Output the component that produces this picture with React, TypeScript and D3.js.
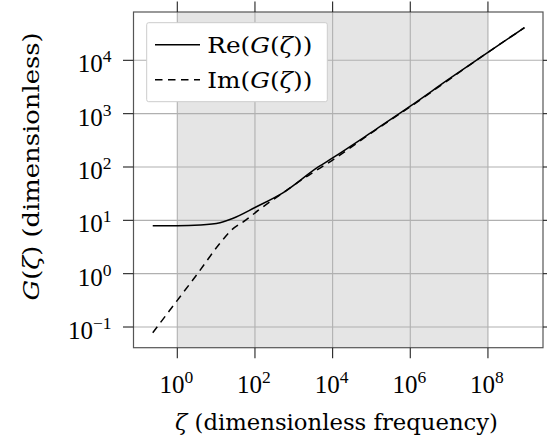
import React from 'react';
import * as d3 from 'd3';

// Re(G(ζ))
const reZeta = [0.233, 1, 3.89, 12.6, 27.5, 100, 537, 4266, 1e4, 1e5, 1e6, 1e7, 1e8, 8.71e8];
const reG = [7.94, 7.94, 8.18, 9.04, 10.96, 17.4, 33.1, 100, 148, 447, 1380, 4467, 14125, 40926];

// Im(G(ζ))
const imZeta = [0.233, 1, 3.16, 12.6, 25.1, 58.9, 123, 269, 589, 1175, 2884, 1e4, 1e5, 1e6, 1e7, 1e8, 8.71e8];
const imG = [0.0782, 0.316, 0.955, 3.72, 6.61, 10.16, 15.5, 23.4, 34.7, 49.5, 75.9, 135, 437, 1349, 4365, 14125, 40926];

const xTicks = [1, 1e2, 1e4, 1e6, 1e8];
const xTickExp = ['0', '2', '4', '6', '8'];
const yTicks = [1e-1, 1, 1e1, 1e2, 1e3, 1e4];
const yTickExp = ['\u22121', '0', '1', '2', '3', '4'];
const shadeRange = [1, 1e8];
const legendLabels = ['Re', 'Im'];

const FONT = "'Liberation Serif', serif";
const LABEL_FONT = "'DejaVu Serif', serif";

export default function App() {
  const W = 547, H = 441;
  const left = 133.5, right = 543, top = 12, bottom = 347.7;
  const x = d3.scaleLog().domain([10 ** -1.128, 10 ** 9.418]).range([left, right]);
  const y = d3.scaleLog().domain([10 ** -1.388, 10 ** 4.906]).range([bottom, top]);
  const line = d3
    .line<[number, number]>()
    .x((d) => x(d[0]))
    .y((d) => y(d[1]))
    .curve(d3.curveMonotoneX);
  const rePath = line(reZeta.map((z, i) => [z, reG[i]] as [number, number])) || '';
  const imPath = line(imZeta.map((z, i) => [z, imG[i]] as [number, number])) || '';
  const tickLen = 10.5;
  const gridColor = '#b0b0b0';
  const dash = '7.5,5.5';

  const legX = 146.7, legY = 22.7, legW = 180.6, legH = 79;
  const legendRows = [
    { label: legendLabels[0], dash: undefined as string | undefined, ly: 44.7, len: 105 },
    { label: legendLabels[1], dash: dash, ly: 79.7, len: 105 },
  ];

  const labelStyle = { fontFamily: LABEL_FONT, fontWeight: 300 } as React.CSSProperties;

  return (
    <svg
      width={W}
      height={H}
      style={{ position: 'absolute', left: 0, top: 0, background: '#fff', fontFamily: FONT }}
    >
      <defs>
        <clipPath id="plotclip">
          <rect x={left} y={top} width={right - left} height={bottom - top} />
        </clipPath>
      </defs>
      {/* shaded band */}
      <rect
        x={x(shadeRange[0])}
        y={top}
        width={x(shadeRange[1]) - x(shadeRange[0])}
        height={bottom - top}
        fill="#e5e5e5"
      />
      {/* grid */}
      {xTicks.map((t, i) => (
        <line key={'gx' + i} x1={x(t)} x2={x(t)} y1={top} y2={bottom} stroke={gridColor} strokeWidth={1.1} />
      ))}
      {yTicks.map((t, i) => (
        <line key={'gy' + i} x1={left} x2={right} y1={y(t)} y2={y(t)} stroke={gridColor} strokeWidth={1.1} />
      ))}
      {/* curves */}
      <g clipPath="url(#plotclip)">
        <path d={rePath} fill="none" stroke="#000" strokeWidth={1.5} strokeLinejoin="round" />
        <path d={imPath} fill="none" stroke="#000" strokeWidth={1.5} strokeDasharray={dash} />
      </g>
      {/* frame */}
      <rect x={left} y={top} width={right - left} height={bottom - top} fill="none" stroke="#555" strokeWidth={1.2} />
      {/* ticks */}
      {xTicks.map((t, i) => (
        <g key={'tx' + i}>
          <line x1={x(t)} x2={x(t)} y1={bottom} y2={bottom + tickLen} stroke="#222" strokeWidth={1.1} />
          <line x1={x(t)} x2={x(t)} y1={top} y2={top - tickLen} stroke="#222" strokeWidth={1.1} />
          <text x={x(t) - 1} y={393.3} textAnchor="middle" fontSize={25} fill="#000">
            10
            <tspan dy={-10} fontSize={17.5}>{xTickExp[i]}</tspan>
          </text>
        </g>
      ))}
      {yTicks.map((t, i) => (
        <g key={'ty' + i}>
          <line x1={left} x2={left - tickLen} y1={y(t)} y2={y(t)} stroke="#222" strokeWidth={1.1} />
          <line x1={right} x2={right + tickLen} y1={y(t)} y2={y(t)} stroke="#222" strokeWidth={1.1} />
          <text x={111.5} y={y(t) + 12} textAnchor="end" fontSize={25} fill="#000">
            10
            <tspan dy={-10} fontSize={17.5}>{yTickExp[i]}</tspan>
          </text>
        </g>
      ))}
      {/* legend */}
      <rect x={legX} y={legY} width={legW} height={legH} fill="#fff" stroke="#cccccc" strokeWidth={1} rx={2} />
      {legendRows.map((r, i) => (
        <g key={'lg' + i}>
          <line x1={155} x2={200} y1={r.ly} y2={r.ly} stroke="#000" strokeWidth={1.5} strokeDasharray={r.dash} />
          <text x={207.3} y={r.ly + 8.5} fontSize={22} fill="#000" style={labelStyle} textLength={r.len} lengthAdjust="spacingAndGlyphs">
            {r.label}(<tspan fontStyle="italic">G</tspan>(<tspan fontStyle="italic">ζ</tspan>))
          </text>
        </g>
      ))}
      {/* axis labels */}
      <text x={336.5} y={430} textAnchor="middle" fontSize={22} fill="#000" style={labelStyle} textLength={323} lengthAdjust="spacingAndGlyphs">
        <tspan fontStyle="italic">ζ</tspan> (dimensionless frequency)
      </text>
      <text
        transform={`translate(39,166.5) rotate(-90)`}
        textAnchor="middle"
        fontSize={22}
        fill="#000"
        style={labelStyle}
        textLength={268}
        lengthAdjust="spacingAndGlyphs"
      >
        <tspan fontStyle="italic">G</tspan>(<tspan fontStyle="italic">ζ</tspan>) (dimensionless)
      </text>
    </svg>
  );
}
